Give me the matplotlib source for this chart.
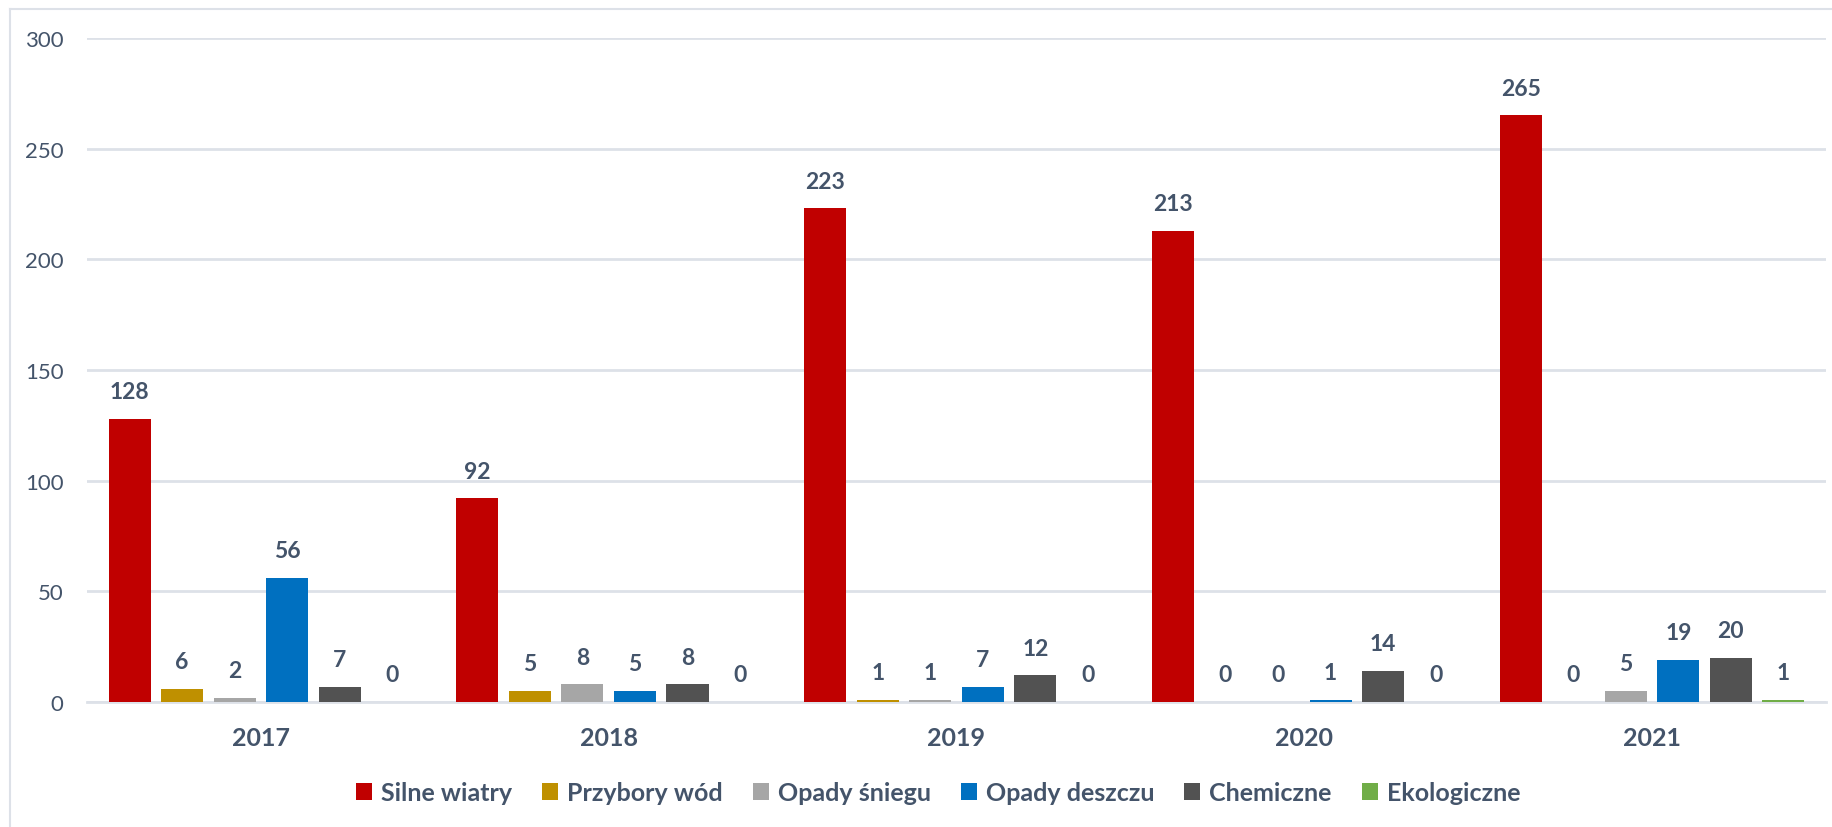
import numpy as np
import matplotlib
matplotlib.use("Agg")
import matplotlib.pyplot as plt
from matplotlib.lines import Line2D

plt.rcParams['font.family'] = ['Lato', 'DejaVu Sans']

years = ['2017', '2018', '2019', '2020', '2021']
series = ['Silne wiatry', 'Przybory wód', 'Opady śniegu', 'Opady deszczu', 'Chemiczne', 'Ekologiczne']
silne = [128, 92, 223, 213, 265]
przybory = [6, 5, 1, 0, 0]
snieg = [2, 8, 1, 0, 5]
deszcz = [56, 5, 7, 1, 19]
chem = [7, 8, 12, 14, 20]
eko = [0, 0, 0, 0, 1]
colors = ['#C00000', '#BF9000', '#A6A6A6', '#0070C0', '#525252', '#70AD47']

txt = '#44546A'
grid = '#DDE1E8'

fig = plt.figure(figsize=(18.32, 8.28), dpi=100)
ax = fig.add_axes([87/1832, 1-703/828, (1826-87)/1832, (703-39)/828])

x = np.arange(len(years))
pitch = 0.151
w = 0.121
data = [silne, przybory, snieg, deszcz, chem, eko]
for i, vals in enumerate(data):
    pos = x + (i - 2.5) * pitch
    bars = ax.bar(pos, vals, width=w, color=colors[i], label=series[i], zorder=3)
    for b, v in zip(bars, vals):
        ax.annotate(str(v), (b.get_x() + b.get_width()/2, v), xytext=(0, 12),
                    textcoords='offset points', ha='center', va='bottom',
                    fontsize=16.5, fontweight='bold', color=txt)

ax.set_xlim(-0.5, len(years) - 0.5)
ax.set_ylim(0, 300)
ax.set_yticks([0, 50, 100, 150, 200, 250, 300])
ax.set_xticks(x)
ax.set_xticklabels(years, fontsize=18, fontweight='bold', color=txt)
ax.tick_params(axis='x', length=0, pad=17)
ax.tick_params(axis='y', length=0, pad=17, labelsize=16, labelcolor=txt)
ax.grid(axis='y', color=grid, linewidth=2, zorder=0)
for s in ['top', 'right', 'left']:
    ax.spines[s].set_visible(False)
ax.spines['bottom'].set_color(grid)
ax.spines['bottom'].set_linewidth(2)

# chart border (left and top edges)
fig.add_artist(Line2D([10/1832, 10/1832], [0, 1-10/828], color=grid, linewidth=1.5))
fig.add_artist(Line2D([10/1832, 1], [1-10/828, 1-10/828], color=grid, linewidth=1.5))

leg = fig.legend(loc='center', bbox_to_anchor=(938/1832, 1-794/828), ncol=6,
                 frameon=False, handlelength=0.65, handleheight=0.65,
                 handletextpad=0.35, columnspacing=1.2,
                 prop={'size': 18, 'weight': 'bold'})
for t in leg.get_texts():
    t.set_color(txt)

plt.savefig('out.png', dpi=100)
